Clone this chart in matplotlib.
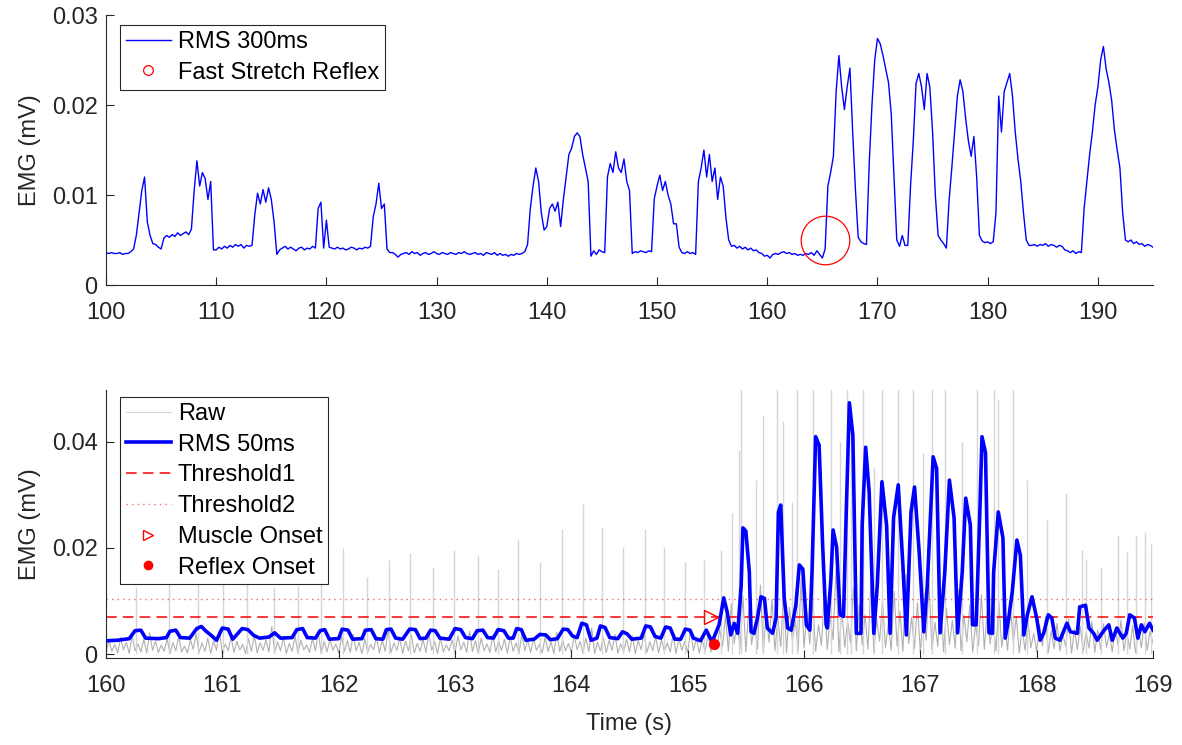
import numpy as np
import matplotlib
matplotlib.use('Agg')
import matplotlib.pyplot as plt
from matplotlib.lines import Line2D

plt.rcParams['font.family'] = ['Liberation Sans', 'DejaVu Sans']

# Top panel: RMS 300ms envelope, 0.25 s samples from 100 s to 195 s (units of 1e-3 mV)
rms300 = [
    3.6, 3.5, 3.6, 3.5,  3.5, 3.6, 3.4, 3.5,  3.5, 3.7, 4.0, 5.5,  8.0, 10.5, 12.0, 7.0,
    5.5, 4.6, 4.5, 4.2,  4.0, 5.2, 5.5, 5.3,  5.6, 5.4, 5.8, 5.5,  5.7, 5.9, 5.6, 6.2,
    10.5, 13.8, 11.0, 12.5,  11.8, 9.5, 11.5, 3.9,  3.9, 4.2, 4.0, 4.3,  4.1, 4.4, 4.2, 4.5,
    4.3, 4.5, 4.1, 4.4,  4.3, 4.4, 7.8, 10.2,  9.0, 10.6, 9.2, 10.8,  9.5, 7.0, 3.4, 3.9,
    4.1, 4.3, 4.0, 4.2,  4.0, 3.8, 4.1, 4.2,  3.9, 4.1, 4.0, 4.3,  4.1, 8.5, 9.2, 4.1,
    7.2, 4.2, 4.1, 4.0,  4.2, 4.0, 4.1, 3.9,  4.0, 4.2, 4.1, 3.9,  4.1, 4.0, 4.2, 4.1,
    4.3, 7.6, 9.0, 11.3,  8.5, 9.0, 4.0, 3.6,  3.6, 3.4, 3.1, 3.4,  3.5, 3.6, 3.4, 3.7,
    3.5, 3.6, 3.3, 3.5,  3.6, 3.4, 3.5, 3.7,  3.5, 3.4, 3.6, 3.5,  3.4, 3.6, 3.5, 3.4,
    3.6, 3.5, 3.7, 3.5,  3.4, 3.5, 3.6, 3.4,  3.5, 3.3, 3.6, 3.5,  3.4, 3.6, 3.3, 3.5,
    3.3, 3.4, 3.2, 3.4,  3.3, 3.5, 3.4, 3.5,  3.7, 4.5, 8.5, 11.0,  13.0, 11.5, 8.0, 6.1,
    6.5, 8.5, 9.0, 8.2,  9.2, 6.5, 9.5, 12.0,  14.5, 15.2, 16.5, 16.9,  16.5, 14.5, 13.0, 11.5,
    3.2, 3.8, 3.4, 3.9,  3.7, 3.6, 12.0, 13.5,  12.5, 14.8, 13.0, 12.5,  14.0, 11.5, 10.5, 3.5,
    3.7, 3.6, 3.8, 3.7,  3.6, 3.8, 3.7, 9.6,  11.0, 12.2, 10.5, 11.5,  10.0, 9.0, 6.8, 6.8,
    4.2, 3.6, 3.5, 3.7,  3.5, 3.6, 3.4, 11.5,  13.0, 15.0, 12.0, 14.5,  11.5, 13.0, 9.5, 12.0,
    11.0, 7.5, 5.0, 4.3,  4.4, 4.1, 4.3, 4.0,  4.2, 3.9, 4.1, 3.8,  3.9, 3.6, 3.5, 3.2,
    3.3, 3.0, 3.4, 3.5,  3.4, 3.6, 3.7, 3.5,  3.6, 3.4, 3.5, 3.3,  3.4, 3.3, 3.5, 3.4,
    3.6, 3.3, 3.8, 3.4,  3.0, 4.0, 11.0, 12.5,  14.3, 21.5, 25.5, 22.0,  19.5, 22.0, 24.1, 17.0,
    10.6, 5.3, 4.8, 4.6,  4.5, 13.5, 20.0, 25.0,  27.4, 26.8, 25.5, 24.0,  22.5, 19.0, 12.0, 5.0,
    4.3, 5.5, 4.4, 4.4,  11.0, 16.0, 22.4, 23.5,  22.0, 19.5, 23.5, 22.0,  17.0, 10.0, 5.5, 5.0,
    4.6, 4.1, 9.4, 13.1,  17.0, 21.0, 22.8, 21.5,  18.5, 16.0, 14.3, 16.5,  12.0, 5.5, 4.9, 4.7,
    4.8, 4.6, 4.8, 8.0,  21.0, 17.0, 21.5, 22.5,  23.5, 21.0, 17.0, 14.0,  11.5, 8.0, 5.0, 4.4,
    4.4, 4.5, 4.3, 4.5,  4.4, 4.6, 4.3, 4.5,  4.4, 4.2, 4.4, 4.3,  3.9, 3.8, 3.6, 3.8,
    3.5, 3.7, 3.6, 8.5,  11.5, 14.5, 17.0, 20.0,  22.0, 25.0, 26.5, 24.0,  22.5, 20.5, 17.2, 15.0,
    13.0, 8.0, 5.0, 4.8,  5.0, 4.6, 4.8, 4.5,  4.6, 4.3, 4.5, 4.4,  4.2,
]
reflex_top_t = 165.25
reflex_top_v = 0.005

# Bottom panel: RMS 50ms envelope (time s, value 1e-3 mV)
rms50_t = [
    160.00, 160.10, 160.20, 160.25, 160.30, 160.34, 160.45, 160.52, 160.55, 160.60, 160.64, 160.72,
    160.78, 160.82, 160.86, 160.90, 160.95, 161.00, 161.05, 161.09, 161.17, 161.22, 161.27, 161.32,
    161.40, 161.45, 161.50, 161.60, 161.64, 161.69, 161.73, 161.80, 161.84, 161.88, 161.92, 162.00,
    162.03, 162.08, 162.12, 162.20, 162.23, 162.28, 162.32, 162.38, 162.41, 162.45, 162.49, 162.55,
    162.61, 162.66, 162.70, 162.75, 162.79, 162.83, 162.87, 162.95, 163.00, 163.05, 163.09, 163.15,
    163.19, 163.24, 163.28, 163.33, 163.37, 163.42, 163.46, 163.50, 163.53, 163.57, 163.61, 163.68,
    163.73, 163.78, 163.82, 163.88, 163.93, 163.97, 164.01, 164.05, 164.09, 164.13, 164.17, 164.22,
    164.25, 164.29, 164.33, 164.40, 164.44, 164.48, 164.52, 164.60, 164.64, 164.68, 164.72, 164.77,
    164.81, 164.85, 164.89, 164.94, 164.98, 165.02, 165.05, 165.11, 165.16, 165.21,
    165.27, 165.31, 165.34, 165.37, 165.40, 165.43, 165.46, 165.475, 165.50, 165.53, 165.545, 165.57,
    165.60, 165.63, 165.66, 165.685, 165.73, 165.76, 165.78, 165.80, 165.83, 165.86, 165.89, 165.93,
    165.96, 165.99, 166.02, 166.05, 166.07, 166.10, 166.13, 166.16, 166.19, 166.20, 166.23, 166.25,
    166.28, 166.31, 166.34, 166.36, 166.39, 166.42, 166.45, 166.49, 166.50, 166.53, 166.56, 166.60,
    166.63, 166.67, 166.71, 166.74, 166.77, 166.81, 166.85, 166.88, 166.92, 166.95, 166.99, 167.03,
    167.06, 167.11, 167.14, 167.17, 167.21, 167.25, 167.29, 167.32, 167.36, 167.39, 167.43, 167.45,
    167.48, 167.51, 167.53, 167.56, 167.59, 167.62, 167.63, 167.67, 167.71, 167.73, 167.76, 167.79,
    167.83, 167.86, 167.89, 167.92, 167.96, 168.00, 168.03, 168.06, 168.10, 168.13, 168.16, 168.20,
    168.26, 168.29, 168.35, 168.37, 168.42, 168.45, 168.49, 168.52, 168.58, 168.62, 168.65, 168.69,
    168.74, 168.77, 168.80, 168.84, 168.87, 168.90, 168.93, 168.97, 169.00,
]
rms50_v = [
    2.5, 2.6, 2.9, 4.4, 4.5, 3.0, 2.9, 3.1, 4.3, 4.5, 3.1, 3.0,
    4.8, 5.2, 4.3, 3.6, 2.6, 4.9, 4.7, 2.8, 4.8, 4.6, 3.5, 3.0,
    3.2, 4.0, 3.0, 3.1, 4.6, 4.8, 3.1, 3.0, 4.4, 4.6, 2.8, 2.9,
    4.7, 4.5, 2.8, 2.9, 4.5, 4.6, 2.9, 2.8, 4.6, 4.7, 3.0, 2.8,
    4.7, 4.6, 2.9, 3.0, 4.5, 4.4, 3.0, 2.8, 4.8, 4.6, 3.1, 2.9,
    4.4, 4.5, 3.1, 3.0, 4.6, 4.4, 3.0, 3.0, 4.8, 4.6, 2.6, 2.8,
    3.7, 3.6, 2.7, 2.9, 4.7, 4.6, 3.4, 3.1, 5.8, 5.5, 2.6, 3.0,
    5.3, 5.0, 3.1, 2.9, 4.2, 3.8, 2.8, 3.0, 5.3, 5.1, 3.3, 3.0,
    5.1, 4.9, 2.8, 2.8, 4.7, 4.5, 3.0, 2.5, 4.5, 2.3,
    5.5, 10.6, 7.9, 3.6, 5.8, 3.9, 13.0, 23.8, 23.2, 15.5, 4.2, 3.9,
    6.8, 10.8, 10.5, 4.9, 3.9, 6.8, 26.8, 28.1, 10.5, 4.9, 4.5, 9.2,
    16.8, 16.0, 5.5, 4.5, 16.2, 41.0, 39.4, 20.6, 5.5, 4.9, 13.6, 23.4,
    20.2, 7.4, 7.1, 24.3, 47.4, 41.3, 3.9, 3.9, 24.3, 39.0, 30.6, 3.9,
    13.0, 32.5, 24.3, 3.9, 25.7, 31.9, 16.8, 3.6, 26.8, 31.5, 19.2, 4.2,
    13.0, 37.2, 35.0, 4.0, 15.4, 32.8, 25.7, 4.0, 15.4, 29.4, 24.3, 5.5,
    5.5, 25.7, 41.0, 38.0, 4.0, 3.9, 15.4, 26.8, 21.9, 3.0, 6.8, 11.7,
    21.5, 18.6, 3.6, 7.4, 10.8, 6.8, 2.6, 3.9, 7.4, 6.8, 3.0, 2.6,
    5.8, 4.2, 3.9, 8.9, 9.2, 4.9, 3.9, 2.6, 4.5, 5.5, 2.6, 4.9,
    3.0, 3.9, 7.4, 6.8, 3.0, 5.5, 4.2, 5.8, 4.5,
]

# Raw rectified EMG, 0.025 s samples from 160 s to 169 s (units of 1e-4 mV)
raw_v = [
    3, 26, 5, 18, 2, 31, 8, 22, 1, 35, 6, 19, 4, 28, 2, 40, 7, 24, 3, 17, 5,
    29, 1, 22, 6, 33, 4, 15, 2, 27, 9, 38, 3, 21, 5, 30, 1, 25, 7, 45, 2, 19,
    6, 32, 3, 24, 8, 18, 1, 29, 5, 36, 2, 21, 7, 27, 4, 52, 3, 23, 6, 31, 1,
    20, 5, 34, 2, 26, 8, 17, 3, 30, 6, 41, 1, 24, 4, 28, 7, 19, 2, 33, 5, 25,
    3, 37, 6, 22, 1, 29, 4, 18, 8, 32, 2, 26, 5, 47, 3, 21, 7, 30, 1, 24, 6,
    35, 2, 20, 5, 28, 3, 39, 7, 23, 1, 31, 4, 17, 6, 27, 2, 34, 8, 22, 3, 43,
    5, 25, 1, 30, 6, 19, 3, 36, 4, 24, 7, 28, 2, 33, 5, 21, 1, 38, 6, 26, 3,
    29, 7, 18, 2, 32, 5, 23, 1, 41, 4, 27, 6, 20, 3, 35, 8, 24, 2, 30, 5, 49,
    1, 22, 6, 31, 3, 26, 7, 37, 2, 19, 5, 28, 4, 34, 1, 25, 8, 40, 3, 23, 6,
    33, 2, 27, 5, 21, 4, 36, 1, 29, 7, 24, 3, 44, 6, 30, 2, 26, 5, 38, 4, 31,
    8, 46, 15, 72, 5, 95, 20, 61, 10, 110, 4, 83, 18, 57, 9, 130, 3, 76, 22, 104, 6,
    68, 14, 120, 2, 88, 25, 64, 7, 142, 11, 79, 19, 98, 5, 55, 16, 115, 8, 70, 27, 160,
    4, 85, 13, 62, 21, 125, 6, 93, 17, 74, 9, 138, 3, 66, 24, 101, 12, 58, 7, 118, 15,
    81, 5, 150, 20, 69, 10, 97, 2, 77, 26, 133, 8, 60, 14, 108, 4, 86, 18, 63, 11, 122,
    6, 73, 23, 92, 3, 56, 16, 112, 9, 80, 19, 67, 5, 99, 13, 54, 7, 84, 21, 71, 2,
    48, 7, 62, 12, 39, 4, 55, 15, 71, 3, 44, 10, 58, 6, 36, 14, 66, 2, 47, 9, 52, 5, 40,
    11, 61, 3, 45, 8, 57, 13, 38, 4, 50, 16, 64, 6, 42, 9, 54, 2, 46, 12, 59, 7, 43, 20,
]
# Stimulus / burst spikes in the raw trace (time s, peak 1e-3 mV; 60 = clipped)
spike_t = [
    160.26, 160.54, 160.79, 161.01, 161.21, 161.44, 161.65, 161.85, 162.04, 162.24, 162.43, 162.61,
    162.81, 162.99, 163.20, 163.37, 163.54, 163.73, 163.92, 164.10, 164.26, 164.44, 164.63, 164.80,
    164.98, 165.14, 165.29, 165.38, 165.44, 165.46, 165.59, 165.65, 165.77, 165.82, 165.90, 165.94,
    166.08, 166.23, 166.31, 166.37, 166.40, 166.51, 166.60, 166.67, 166.81, 166.94, 167.02, 167.10,
    167.21, 167.36, 167.49, 167.63, 167.67, 167.80, 167.92, 168.09, 168.25, 168.39, 168.42, 168.55,
    168.70, 168.78, 168.85, 168.93, 168.98,
]
spike_v = [
    12.6, 15.0, 14.5, 19.0, 16.0, 12.6, 12.8, 15.8, 20.0, 14.5, 17.7, 19.0,
    16.5, 19.6, 18.7, 16.0, 21.7, 17.4, 23.6, 28.3, 24.0, 20.2, 23.6, 20.2,
    17.4, 17.7, 19.6, 26.6, 38.5, 60, 32.8, 45, 60, 44, 28.7, 60,
    60, 60, 40, 60, 45, 60, 35, 60, 60, 60, 38, 60,
    60, 40, 60, 60, 48, 60, 32.8, 25.3, 30.4, 19.6, 18.0, 16.4,
    22.5, 19.3, 22.5, 23.0, 20.8,
]

threshold1 = 0.0070
threshold2 = 0.0104
muscle_onset = (165.20, 0.0070)
reflex_onset = (165.23, 0.0019)

t300 = np.linspace(100, 195, len(rms300))
v300 = np.array(rms300) * 1e-3
raw_t = np.linspace(160, 169, len(raw_v))
raw = np.array(raw_v) * 1e-4
r50_v = np.array(rms50_v) * 1e-3

dark = '#262626'
fig = plt.figure(figsize=(11.82, 7.45), dpi=100)
ax1 = fig.add_axes([106 / 1182, 1 - 285 / 745, 1047 / 1182, 270 / 745])
ax2 = fig.add_axes([106 / 1182, 1 - 658 / 745, 1047 / 1182, 268 / 745])

leg_kw = dict(loc='upper left', borderaxespad=0, fontsize=17, fancybox=False,
              edgecolor=dark, framealpha=1, handlelength=1.9, handletextpad=0.3,
              labelspacing=0.37, borderpad=0.25)

# Top panel
ax1.plot(t300, v300, color='blue', lw=1.0)
ax1.plot(reflex_top_t, reflex_top_v, 'o', ms=35, mfc='none', mec='red', mew=0.9)
ax1.set_xlim(100, 195)
ax1.set_ylim(0, 0.03)
ax1.set_xticks(np.arange(100, 195, 10))
ax1.set_yticks([0, 0.01, 0.02, 0.03])
ax1.set_yticklabels(['0', '0.01', '0.02', '0.03'])
ax1.set_ylabel('EMG (mV)', fontsize=17, color=dark, labelpad=8)
h1 = [Line2D([], [], color='blue', lw=1.0),
      Line2D([], [], ls='none', marker='o', ms=7, mfc='none', mec='red', mew=0.9)]
ax1.legend(h1, ['RMS 300ms', 'Fast Stretch Reflex'],
           bbox_to_anchor=(14 / 1047, 1 - 10 / 270), **leg_kw)

# Bottom panel
ax2.plot(raw_t, raw, color='#b0b0b0', lw=0.8, zorder=1)
ax2.vlines(spike_t, 0, np.array(spike_v) * 1e-3, color='#d6d6d6', lw=1.0, zorder=1)
ax2.axhline(threshold1, color='#ff0000', lw=1.1, ls=(0, (7, 4)), zorder=2)
ax2.axhline(threshold2, color='#ff0000', lw=1.0, ls=(0, (1, 3)), alpha=0.6, zorder=2)
ax2.plot(rms50_t, r50_v, color='blue', lw=2.6, solid_joinstyle='round', zorder=3)
ax2.plot(*muscle_onset, '>', ms=10, mfc='none', mec='red', mew=1.0, zorder=4)
ax2.plot(*reflex_onset, 'o', ms=7, color='red', zorder=4)
ax2.set_xlim(160, 169)
ax2.set_ylim(-0.00075, 0.0498)
ax2.set_xticks(np.arange(160, 170, 1))
ax2.set_yticks([0, 0.02, 0.04])
ax2.set_yticklabels(['0', '0.02', '0.04'])
ax2.set_ylabel('EMG (mV)', fontsize=17, color=dark, labelpad=8)
ax2.set_xlabel('Time (s)', fontsize=17, color=dark, labelpad=12)
h2 = [Line2D([], [], color='#d8d8d8', lw=0.8),
      Line2D([], [], color='blue', lw=2.6),
      Line2D([], [], color='#ff0000', lw=1.1, ls=(0, (7, 4))),
      Line2D([], [], color='#ff0000', lw=1.0, ls=(0, (1, 3)), alpha=0.6),
      Line2D([], [], ls='none', marker='>', ms=7, mfc='none', mec='red', mew=1.0),
      Line2D([], [], ls='none', marker='o', ms=6, color='red')]
ax2.legend(h2, ['Raw', 'RMS 50ms', 'Threshold1', 'Threshold2', 'Muscle Onset', 'Reflex Onset'],
           bbox_to_anchor=(14 / 1047, 1 - 7 / 268), **leg_kw)

for ax in (ax1, ax2):
    for s in ('top', 'right'):
        ax.spines[s].set_visible(False)
    for s in ('left', 'bottom'):
        ax.spines[s].set_color(dark)
        ax.spines[s].set_linewidth(0.8)
    ax.tick_params(direction='in', length=6, width=0.8, colors=dark, labelsize=17)
    ax.tick_params(axis='x', pad=12)
    ax.tick_params(axis='y', pad=6)
    ax.get_legend().get_frame().set_linewidth(0.8)

fig.savefig('out.png', dpi=100)
